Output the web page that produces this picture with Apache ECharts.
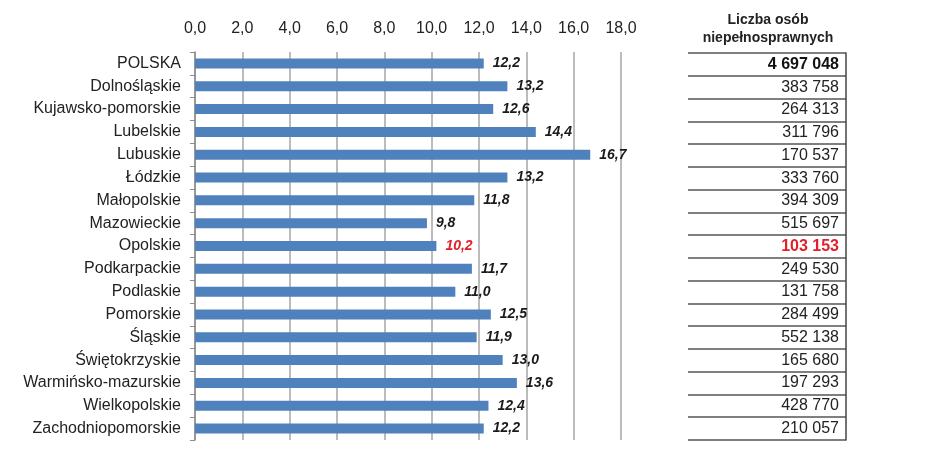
<!DOCTYPE html>
<html><head><meta charset="utf-8">
<script src="https://cdn.jsdelivr.net/npm/echarts@6/dist/echarts.min.js"></script>
<style>html,body{margin:0;padding:0;background:#fff}#c{width:941px;height:475px}</style>
</head><body><div id="c"></div>
<script>
const categories = ["POLSKA","Dolnośląskie","Kujawsko-pomorskie","Lubelskie","Lubuskie","Łódzkie","Małopolskie","Mazowieckie","Opolskie","Podkarpackie","Podlaskie","Pomorskie","Śląskie","Świętokrzyskie","Warmińsko-mazurskie","Wielkopolskie","Zachodniopomorskie"];
const shares = [12.2,13.2,12.6,14.4,16.7,13.2,11.8,9.8,10.2,11.7,11.0,12.5,11.9,13.0,13.6,12.4,12.2];
const counts = [4697048,383758,264313,311796,170537,333760,394309,515697,103153,249530,131758,284499,552138,165680,197293,428770,210057];
const xTicks = [0,2,4,6,8,10,12,14,16,18];
const tableTitle = "Liczba osób\nniepełnosprawnych";
const highlight = "Opolskie";

function fmtComma(v){ return v.toFixed(1).replace('.', ','); }
function fmtCount(n){ return String(n).replace(/\B(?=(\d{3})+(?!\d))/g, ' '); }

const chart = echarts.init(document.getElementById('c'), null, {renderer:'canvas'});
const sans = '"Liberation Sans", Arial, sans-serif';
chart.setOption({
  animation:false,
  backgroundColor:'#fff',
  title:{text:tableTitle, left:763, top:6, textAlign:'center',
    textStyle:{fontFamily:sans, fontSize:14, fontWeight:'bold', color:'#222', lineHeight:18}},
  grid:[
    {left:195, right:320, top:52, bottom:35, containLabel:false},
    {left:688, right:95, top:53, bottom:35, containLabel:false, show:false}
  ],
  xAxis:[
    {gridIndex:0, type:'value', position:'top', min:xTicks[0], max:xTicks[xTicks.length-1], interval:2,
     axisLine:{show:false}, axisTick:{show:false},
     axisLabel:{formatter:v=>fmtComma(v), fontFamily:sans, fontSize:16, color:'#222', margin:15},
     splitLine:{show:true, lineStyle:{color:'#a6a6a6', width:1.5}}},
    {gridIndex:1, type:'value', min:0, max:1, show:false, axisLine:{show:false, onZero:false}, splitLine:{show:false}}
  ],
  yAxis:[
    {gridIndex:0, type:'category', data:categories, inverse:true,
     axisLine:{show:true, lineStyle:{color:'#8c8c8c', width:1.5}},
     axisTick:{show:true, length:5, lineStyle:{color:'#8c8c8c'}},
     axisLabel:{fontFamily:sans, fontSize:16, color:'#222', margin:14}},
    {gridIndex:1, type:'category', data:categories, inverse:true, position:'right',
     axisLine:{show:true, onZero:false, lineStyle:{color:'#444', width:1.5}},
     axisTick:{show:false},
     splitLine:{show:true, lineStyle:{color:'#555', width:1.5}},
     axisLabel:{inside:true, margin:7, fontFamily:sans, fontSize:16, color:'#222',
       formatter:(v,i)=>{
         const t = fmtCount(counts[i]);
         if(i===0) return '{b|'+t+'}';
         if(v===highlight) return '{r|'+t+'}';
         return t;
       },
       rich:{b:{fontWeight:'bold', fontSize:16, color:'#111', fontFamily:sans},
             r:{fontWeight:'bold', fontSize:16, color:'#e0202a', fontFamily:sans}}}}
  ],
  series:[{
    type:'bar', xAxisIndex:0, yAxisIndex:0, barWidth:10,
    data:shares.map((v,i)=>({value:v, label: categories[i]===highlight ? {color:'#e0202a'} : {}})),
    itemStyle:{color:'#4f81bd'},
    label:{show:true, position:'right', distance:9, formatter:p=>fmtComma(p.value),
      fontFamily:sans, fontStyle:'italic', fontWeight:'bold', fontSize:14, color:'#1a1a1a'}
  }]
});
</script></body></html>
